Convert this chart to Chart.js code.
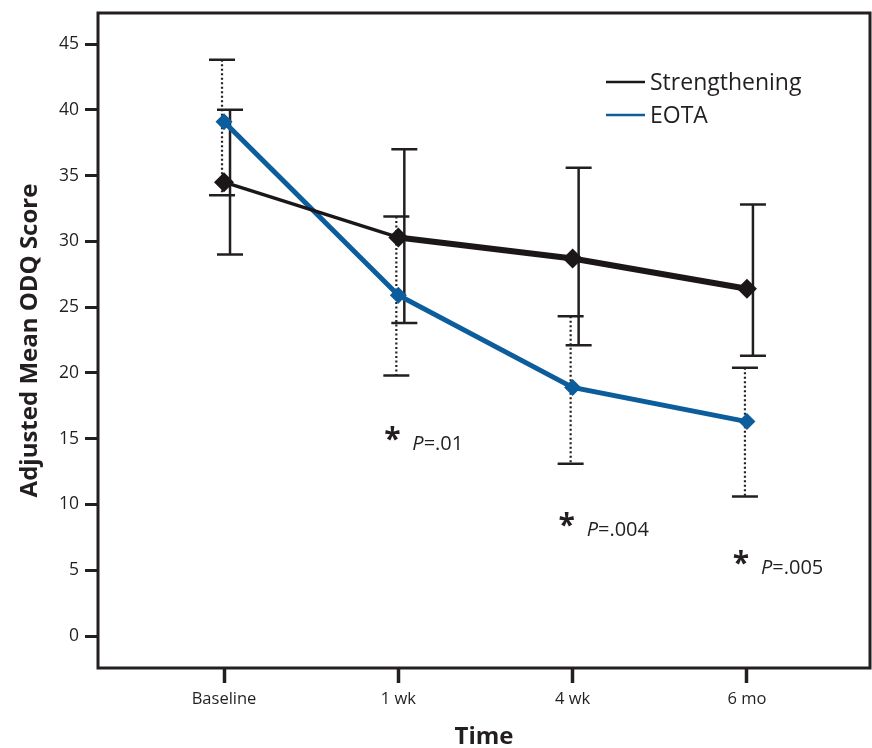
<!DOCTYPE html>
<html>
<head>
<meta charset="utf-8">
<script src="https://cdn.jsdelivr.net/npm/chart.js@4.4.1/dist/chart.umd.min.js"></script>
<style>
  html, body { margin: 0; padding: 0; background: #fff; overflow: hidden; }
  #wrap { width: 872px; height: 748px; }
  canvas { display: block; }
</style>
</head>
<body>
<div id="wrap"><canvas id="odqChart" width="872" height="748"></canvas></div>
<script>
// data
var categories = ['Baseline', '1 wk', '4 wk', '6 mo'];
var strengthMean = [34.5, 30.3, 28.7, 26.4];
var strengthLow = [29.0, 23.8, 22.1, 21.3];
var strengthHigh = [40.0, 37.0, 35.6, 32.8];
var eotaMean = [39.1, 25.9, 18.9, 16.3];
var eotaLow = [33.5, 19.8, 13.1, 10.6];
var eotaHigh = [43.8, 31.9, 24.3, 20.4];
var yTicks = [0, 5, 10, 15, 20, 25, 30, 35, 40, 45];
var pLabels = ['=.01', '=.004', '=.005'];
var pCats = [1, 2, 3];
var pY = [15.3, 8.8, 5.9];

var INK = '#231f20';
var BLUE = '#0b5d9b';
var FONT = "'Open Sans', sans-serif";

function toPoints(arr) {
    return arr.map(function(v, i) { return {x: i, y: v}; });
}

// error bars, frame, legend and p-value notes
var extras = {
    id: 'extras',
    beforeDatasetsDraw: function(chart) {
        var ctx = chart.ctx;
        var xs = chart.scales.x, ys = chart.scales.y;
        ctx.save();
        // dotted EOTA bars
        ctx.strokeStyle = INK;
        for (var i = 0; i < categories.length; i++) {
            var px = xs.getPixelForValue(i) - 2;
            var top = ys.getPixelForValue(eotaHigh[i]);
            var bot = ys.getPixelForValue(eotaLow[i]);
            ctx.lineWidth = 2.2;
            ctx.setLineDash([2, 2.5]);
            ctx.beginPath(); ctx.moveTo(px, top); ctx.lineTo(px, bot); ctx.stroke();
            ctx.setLineDash([]);
            ctx.lineWidth = 2.5;
            ctx.beginPath();
            ctx.moveTo(px - 13, top); ctx.lineTo(px + 13, top);
            ctx.moveTo(px - 13, bot); ctx.lineTo(px + 13, bot);
            ctx.stroke();
        }
        // solid strengthening bars
        for (var j = 0; j < categories.length; j++) {
            var sx = xs.getPixelForValue(j) + 6;
            var st = ys.getPixelForValue(strengthHigh[j]);
            var sb = ys.getPixelForValue(strengthLow[j]);
            ctx.lineWidth = 2.5;
            ctx.beginPath();
            ctx.moveTo(sx, st); ctx.lineTo(sx, sb);
            ctx.moveTo(sx - 13, st); ctx.lineTo(sx + 13, st);
            ctx.moveTo(sx - 13, sb); ctx.lineTo(sx + 13, sb);
            ctx.stroke();
        }
        ctx.restore();
    },
    afterDraw: function(chart) {
        var ctx = chart.ctx;
        var a = chart.chartArea;
        var xs = chart.scales.x, ys = chart.scales.y;
        ctx.save();
        // frame
        ctx.strokeStyle = INK;
        ctx.lineWidth = 3;
        ctx.strokeRect(a.left, a.top, a.right - a.left, a.bottom - a.top);

        // legend
        var sets = chart.data.datasets;
        for (var k = 0; k < sets.length; k++) {
            var ly = 82 + k * 33;
            ctx.strokeStyle = sets[k].borderColor;
            ctx.lineWidth = 2.5;
            ctx.beginPath(); ctx.moveTo(606, ly); ctx.lineTo(645, ly); ctx.stroke();
            ctx.fillStyle = INK;
            ctx.font = '23px ' + FONT;
            ctx.textBaseline = 'middle';
            ctx.textAlign = 'left';
            ctx.fillText(sets[k].label, 650, ly + 1);
        }

        // p-value notes
        for (var n = 0; n < pLabels.length; n++) {
            var cx = xs.getPixelForValue(pCats[n]);
            var cy = ys.getPixelForValue(pY[n]);
            ctx.fillStyle = INK;
            ctx.textBaseline = 'middle';
            ctx.textAlign = 'center';
            ctx.font = 'bold 30px ' + FONT;
            ctx.fillText('*', cx - 6, cy + 6);
            ctx.textAlign = 'left';
            ctx.font = 'italic 20px ' + FONT;
            ctx.fillText('P', cx + 14, cy + 10);
            var w = ctx.measureText('P').width;
            ctx.font = '20px ' + FONT;
            ctx.fillText(pLabels[n], cx + 14 + w, cy + 10);
        }
        ctx.restore();
    }
};

var ctx = document.getElementById('odqChart').getContext('2d');
var myChart = new Chart(ctx, {
    type: 'line',
    data: {
        datasets: [
            {
                label: 'Strengthening',
                data: toPoints(strengthMean),
                borderColor: '#1b1718',
                backgroundColor: '#1b1718',
                borderWidth: 6,
                segment: {
                    borderWidth: function(c) { return c.p0DataIndex === 0 ? 3.5 : 6; }
                },
                pointStyle: 'rectRot',
                pointRadius: 10,
                pointHoverRadius: 10,
                pointBorderWidth: 0,
                tension: 0,
                clip: false
            },
            {
                label: 'EOTA',
                data: toPoints(eotaMean),
                borderColor: BLUE,
                backgroundColor: BLUE,
                borderWidth: 5,
                pointStyle: 'rectRot',
                pointRadius: 8.5,
                pointHoverRadius: 8.5,
                pointBorderWidth: 0,
                tension: 0,
                clip: false
            }
        ]
    },
    options: {
        responsive: false,
        animation: false,
        layout: { autoPadding: false, padding: { top: 13, right: 2, left: 0, bottom: 0 } },
        plugins: {
            legend: { display: false },
            tooltip: { enabled: false }
        },
        scales: {
            x: {
                type: 'linear',
                min: -0.723,
                max: 3.706,
                afterBuildTicks: function(scale) {
                    scale.ticks = categories.map(function(c, i) { return {value: i}; });
                },
                afterFit: function(scale) {
                    scale.height = 80;
                    scale.paddingLeft = 0;
                    scale.paddingRight = 0;
                },
                ticks: {
                    autoSkip: false,
                    maxRotation: 0,
                    padding: 6,
                    color: INK,
                    font: { family: FONT, size: 16.5 },
                    callback: function(v) { return categories[v]; }
                },
                grid: {
                    drawOnChartArea: false,
                    drawTicks: true,
                    tickLength: 15,
                    tickWidth: 3.5,
                    tickColor: INK
                },
                border: { display: false },
                title: {
                    display: true,
                    text: 'Time',
                    color: INK,
                    font: { family: FONT, size: 24, weight: 'bold', lineHeight: 1 },
                    padding: { top: 0, bottom: -1 }
                }
            },
            y: {
                min: -2.43,
                max: 47.36,
                afterBuildTicks: function(scale) {
                    scale.ticks = yTicks.map(function(v) { return {value: v}; });
                },
                afterFit: function(scale) {
                    scale.width = 98;
                    scale.paddingTop = 0;
                    scale.paddingBottom = 0;
                },
                ticks: {
                    padding: 6,
                    color: INK,
                    font: { family: FONT, size: 17.5 }
                },
                grid: {
                    drawOnChartArea: false,
                    drawTicks: true,
                    tickLength: 13,
                    tickWidth: 3,
                    tickColor: INK
                },
                border: { display: false },
                title: {
                    display: true,
                    text: 'Adjusted Mean ODQ Score',
                    color: INK,
                    font: { family: FONT, size: 24, weight: 'bold', lineHeight: 1 },
                    padding: { top: 18, bottom: 0 }
                }
            }
        }
    },
    plugins: [extras]
});
</script>
</body>
</html>
